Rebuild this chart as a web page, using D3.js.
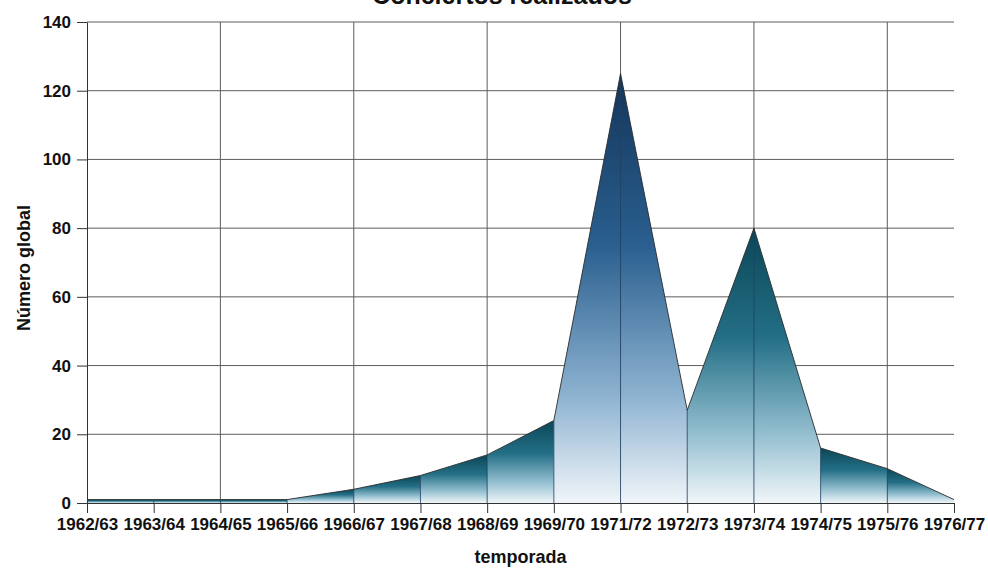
<!DOCTYPE html>
<html>
<head>
<meta charset="utf-8">
<script src="https://cdn.jsdelivr.net/npm/d3@7"></script>
<style>
  html, body { margin: 0; padding: 0; background: #ffffff; }
  svg { display: block; }
  text { font-family: "Liberation Sans", Arial, sans-serif; fill: #111; }
</style>
</head>
<body>
<svg id="chart" width="988" height="572"></svg>
<script>
// Concerts per season
const categories = ["1962/63","1963/64","1964/65","1965/66","1966/67","1967/68","1968/69",
                    "1969/70","1971/72","1972/73","1973/74","1974/75","1975/76","1976/77"];
const conciertos = [1, 1, 1, 1, 4, 8, 14, 24, 125, 27, 80, 16, 10, 1];
const yTicks = [0, 20, 40, 60, 80, 100, 120, 140];

const svg = d3.select("#chart");
const plotLeft = 87, plotRight = 954, plotTop = 22, plotBottom = 503;

const x = d3.scalePoint().domain(categories).range([plotLeft, plotRight]);
const y = d3.scaleLinear().domain([0, 140]).range([plotBottom, plotTop]);

// Grid
const grid = svg.append("g").attr("stroke", "#5c5c5c").attr("stroke-width", 1);
grid.selectAll("line.h").data(yTicks.filter(d => d > 0)).join("line")
  .attr("class", "h")
  .attr("x1", plotLeft).attr("x2", plotRight)
  .attr("y1", d => y(d)).attr("y2", d => y(d));
grid.selectAll("line.v").data(categories.filter((c, i) => i > 0 && i % 2 === 0)).join("line")
  .attr("class", "v")
  .attr("x1", d => x(d)).attr("x2", d => x(d))
  .attr("y1", plotTop).attr("y2", plotBottom);

// Filled area, one shaded piece between each pair of seasons
const defs = svg.append("defs");
const pts = categories.map((c, i) => ({ c, v: conciertos[i] }));
const area = d3.area().x(d => x(d.c)).y0(y(0)).y1(d => y(d.v));
const blue = ["#13355a", "#2a5f8f", "#8db2d0", "#f0f5f9"];
const teal = ["#0b4656", "#246f86", "#94bfd0", "#f0f6f9"];

const segs = d3.range(pts.length - 1).map(i => [pts[i], pts[i + 1]]);
segs.forEach((s, i) => {
  const peak = Math.max(s[0].v, s[1].v);
  const pal = peak > 100 ? blue : teal;
  const g = defs.append("linearGradient")
    .attr("id", "seg" + i)
    .attr("gradientUnits", "userSpaceOnUse")
    .attr("x1", 0).attr("x2", 0)
    .attr("y1", y(peak)).attr("y2", y(0));
  [0, 0.4, 0.75, 1].forEach((o, k) => g.append("stop").attr("offset", o).attr("stop-color", pal[k]));
});

const areaG = svg.append("g");
areaG.selectAll("path").data(segs).join("path")
  .attr("d", area)
  .attr("fill", (d, i) => `url(#seg${i})`);

// Drop lines at each season
areaG.selectAll("line").data(pts.slice(1, -1)).join("line")
  .attr("x1", d => x(d.c)).attr("x2", d => x(d.c))
  .attr("y1", d => y(d.v)).attr("y2", y(0))
  .attr("stroke", "#1d3f63").attr("stroke-width", 1).attr("opacity", 0.8);

// Upper edge
svg.append("path")
  .attr("d", d3.line().x(d => x(d.c)).y(d => y(d.v))(pts))
  .attr("fill", "none").attr("stroke", "#2b2b2b").attr("stroke-width", 0.9);

// Axes
const yAxis = svg.append("g").attr("transform", `translate(${plotLeft},0)`)
  .call(d3.axisLeft(y).tickValues(yTicks).tickSize(10).tickSizeOuter(0).tickPadding(6));
const xAxis = svg.append("g").attr("transform", `translate(0,${plotBottom})`)
  .call(d3.axisBottom(x).tickSize(10).tickSizeOuter(0).tickPadding(5));
[yAxis, xAxis].forEach(a => {
  a.selectAll("path, line").attr("stroke", "#333").attr("stroke-width", 1);
  a.selectAll("text").attr("font-family", "'Liberation Sans', Arial, sans-serif")
    .attr("font-size", 17).attr("font-weight", "bold").attr("fill", "#111");
});

// Titles
svg.append("text").attr("x", 502).attr("y", 4).attr("text-anchor", "middle")
  .attr("font-size", 25).attr("font-weight", "bold").text("Conciertos realizados");
svg.append("text").attr("x", (plotLeft + plotRight) / 2).attr("y", 563).attr("text-anchor", "middle")
  .attr("font-size", 18).attr("font-weight", "bold").text("temporada");
svg.append("text").attr("transform", "translate(30,268) rotate(-90)").attr("text-anchor", "middle")
  .attr("font-size", 18).attr("font-weight", "bold").text("Número global");
</script>
</body>
</html>
